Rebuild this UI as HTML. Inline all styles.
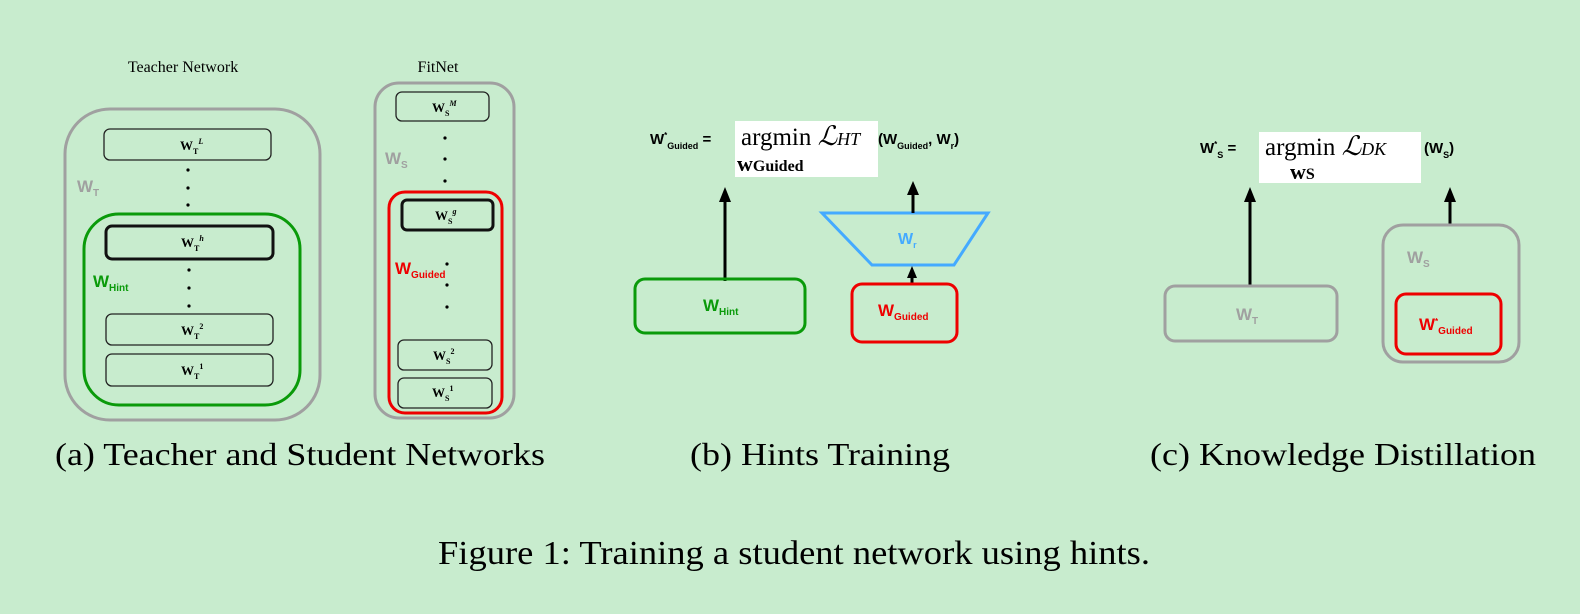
<!DOCTYPE html>
<html><head><meta charset="utf-8"><style>
html,body{margin:0;padding:0;background:#c8ecce;}
svg{display:block}
.s{font-family:"Liberation Serif",serif}
.a{font-family:"Liberation Sans",sans-serif;font-weight:bold}
</style></head><body>
<svg width="1580" height="614" viewBox="0 0 1580 614" xmlns="http://www.w3.org/2000/svg">
<rect width="1580" height="614" fill="#c8ecce"/>

<!-- (a) -->
<text x="183" y="72" class="s" font-size="16" text-anchor="middle">Teacher Network</text>
<text x="438" y="72" class="s" font-size="16" text-anchor="middle">FitNet</text>
<rect x="65" y="109" width="255" height="311" rx="45" fill="none" stroke="#a0a0a0" stroke-width="3"/>
<text x="77" y="192" class="a" font-size="17" fill="#a0a0a0">W<tspan font-size="10" dy="4">T</tspan></text>
<rect x="104" y="129" width="167" height="31" rx="6" fill="none" stroke="#222" stroke-width="1.3"/>
<text x="180" y="150" class="s" font-weight="bold" font-size="13">W<tspan font-size="8" dy="4">T</tspan><tspan font-size="8" dy="-10" font-style="italic">L</tspan></text>
<g fill="#000"><circle cx="188" cy="170" r="1.6"/><circle cx="188" cy="188" r="1.6"/><circle cx="188" cy="205" r="1.6"/>
<circle cx="189" cy="270" r="1.6"/><circle cx="189" cy="288" r="1.6"/><circle cx="189" cy="306" r="1.6"/>
<circle cx="445" cy="138" r="1.6"/><circle cx="445" cy="159" r="1.6"/><circle cx="445" cy="181" r="1.6"/>
<circle cx="447" cy="264" r="1.6"/><circle cx="447" cy="285" r="1.6"/><circle cx="447" cy="307" r="1.6"/></g>
<rect x="84" y="214" width="216" height="191" rx="35" fill="none" stroke="#0a9a0a" stroke-width="3"/>
<rect x="106" y="226" width="167" height="33" rx="6" fill="none" stroke="#111" stroke-width="3"/>
<text x="181" y="247" class="s" font-weight="bold" font-size="13">W<tspan font-size="8" dy="4">T</tspan><tspan font-size="8" dy="-10" font-style="italic">h</tspan></text>
<text x="93" y="287" class="a" font-size="17" fill="#0a9a0a">W<tspan font-size="10" dy="4">Hint</tspan></text>
<rect x="106" y="314" width="167" height="31" rx="6" fill="none" stroke="#222" stroke-width="1.3"/>
<text x="181" y="335" class="s" font-weight="bold" font-size="13">W<tspan font-size="8" dy="4">T</tspan><tspan font-size="8" dy="-10">2</tspan></text>
<rect x="106" y="354" width="167" height="32" rx="6" fill="none" stroke="#222" stroke-width="1.3"/>
<text x="181" y="375" class="s" font-weight="bold" font-size="13">W<tspan font-size="8" dy="4">T</tspan><tspan font-size="8" dy="-10">1</tspan></text>

<rect x="375" y="83" width="139" height="335" rx="24" fill="none" stroke="#a0a0a0" stroke-width="3"/>
<rect x="396" y="92" width="93" height="29" rx="6" fill="none" stroke="#222" stroke-width="1.3"/>
<text x="432" y="112" class="s" font-weight="bold" font-size="13">W<tspan font-size="8" dy="4">S</tspan><tspan font-size="8" dy="-10" font-style="italic">M</tspan></text>
<text x="385" y="164" class="a" font-size="17" fill="#a0a0a0">W<tspan font-size="10" dy="4">S</tspan></text>
<rect x="389" y="192" width="113" height="221" rx="16" fill="none" stroke="#ee0000" stroke-width="3"/>
<rect x="402" y="200" width="91" height="30" rx="5" fill="none" stroke="#111" stroke-width="3"/>
<text x="435" y="220" class="s" font-weight="bold" font-size="13">W<tspan font-size="8" dy="4">S</tspan><tspan font-size="8" dy="-10" font-style="italic">g</tspan></text>
<text x="395" y="274" class="a" font-size="17" fill="#ee0000">W<tspan font-size="10" dy="4">Guided</tspan></text>
<rect x="398" y="340" width="94" height="30" rx="6" fill="none" stroke="#222" stroke-width="1.3"/>
<text x="433" y="360" class="s" font-weight="bold" font-size="13">W<tspan font-size="8" dy="4">S</tspan><tspan font-size="8" dy="-10">2</tspan></text>
<rect x="398" y="378" width="94" height="30" rx="6" fill="none" stroke="#222" stroke-width="1.3"/>
<text x="432" y="397" class="s" font-weight="bold" font-size="13">W<tspan font-size="8" dy="4">S</tspan><tspan font-size="8" dy="-10">1</tspan></text>

<!-- (b) -->
<rect x="735" y="121" width="143" height="56" fill="#fff"/>
<text x="650" y="144" class="a" font-size="15">W<tspan font-size="8" dy="-6">*</tspan><tspan font-size="9" dy="11">Guided</tspan><tspan dy="-5" font-size="15"> =</tspan></text>
<text x="741" y="145" class="s" font-size="25">argmin <tspan font-style="italic" font-size="27">ℒ</tspan><tspan font-style="italic" font-size="18">HT</tspan></text>
<text x="737" y="171" class="s" font-weight="bold" font-size="22">w<tspan font-size="16">Guided</tspan></text>
<text x="878" y="144" class="a" font-size="15">(W<tspan font-size="9" dy="5">Guided</tspan><tspan dy="-5">, W</tspan><tspan font-size="9" dy="5">r</tspan><tspan dy="-5">)</tspan></text>
<line x1="725" y1="281" x2="725" y2="200" stroke="#000" stroke-width="3"/>
<path d="M719,202 L725,187 L731,202 Z"/>
<rect x="635" y="279" width="170" height="54" rx="10" fill="none" stroke="#0a9a0a" stroke-width="3"/>
<text x="703" y="311" class="a" font-size="17" fill="#0a9a0a">W<tspan font-size="10" dy="4">Hint</tspan></text>
<polygon points="822,213 988,213 954,265 872,265" fill="none" stroke="#44aaff" stroke-width="3"/>
<text x="898" y="244" class="a" font-size="16" fill="#44aaff">W<tspan font-size="9" dy="4">r</tspan></text>
<line x1="913" y1="213" x2="913" y2="192" stroke="#000" stroke-width="3"/>
<path d="M907,195 L913,181 L919,195 Z"/>
<line x1="912" y1="284" x2="912" y2="275" stroke="#000" stroke-width="3"/>
<path d="M907,278 L912,266 L917,278 Z"/>
<rect x="852" y="284" width="105" height="58" rx="10" fill="none" stroke="#ee0000" stroke-width="3"/>
<text x="878" y="316" class="a" font-size="17" fill="#ee0000">W<tspan font-size="10" dy="4">Guided</tspan></text>

<!-- (c) -->
<rect x="1259" y="132" width="162" height="51" fill="#fff"/>
<text x="1200" y="153" class="a" font-size="15">W<tspan font-size="8" dy="-6">*</tspan><tspan font-size="9" dy="11">S</tspan><tspan dy="-5"> =</tspan></text>
<text x="1265" y="155" class="s" font-size="25">argmin <tspan font-style="italic" font-size="27">ℒ</tspan><tspan font-style="italic" font-size="18">DK</tspan></text>
<text x="1290" y="179" class="s" font-weight="bold" font-size="22">w<tspan font-size="16">S</tspan></text>
<text x="1424" y="153" class="a" font-size="15">(W<tspan font-size="9" dy="5">S</tspan><tspan dy="-5">)</tspan></text>
<line x1="1250" y1="286" x2="1250" y2="200" stroke="#000" stroke-width="3"/>
<path d="M1244,202 L1250,187 L1256,202 Z"/>
<rect x="1165" y="286" width="172" height="55" rx="10" fill="none" stroke="#a0a0a0" stroke-width="3"/>
<text x="1236" y="320" class="a" font-size="17" fill="#a0a0a0">W<tspan font-size="10" dy="4">T</tspan></text>
<line x1="1450" y1="225" x2="1450" y2="200" stroke="#000" stroke-width="3"/>
<path d="M1444,202 L1450,187 L1456,202 Z"/>
<rect x="1383" y="225" width="136" height="137" rx="20" fill="none" stroke="#a0a0a0" stroke-width="3"/>
<text x="1407" y="263" class="a" font-size="17" fill="#a0a0a0">W<tspan font-size="10" dy="4">S</tspan></text>
<rect x="1396" y="294" width="105" height="60" rx="10" fill="none" stroke="#ee0000" stroke-width="3"/>
<text x="1419" y="330" class="a" font-size="17" fill="#ee0000">W<tspan font-size="8" dy="-6">*</tspan><tspan font-size="10" dy="10">Guided</tspan></text>

<!-- captions -->
<text x="55" y="465" class="s" font-size="32" textLength="490" lengthAdjust="spacingAndGlyphs">(a) Teacher and Student Networks</text>
<text x="690" y="465" class="s" font-size="32" textLength="260" lengthAdjust="spacingAndGlyphs">(b) Hints Training</text>
<text x="1150" y="465" class="s" font-size="32" textLength="386" lengthAdjust="spacingAndGlyphs">(c) Knowledge Distillation</text>
<text x="438" y="564" class="s" font-size="34" textLength="712" lengthAdjust="spacingAndGlyphs">Figure 1: Training a student network using hints.</text>
</svg>
</body></html>
